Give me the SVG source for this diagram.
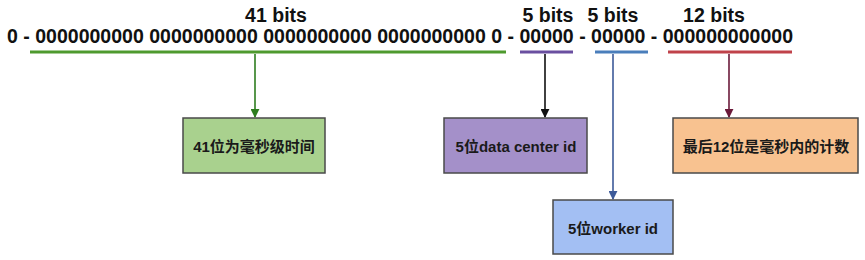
<svg xmlns="http://www.w3.org/2000/svg" width="865" height="260" viewBox="0 0 865 260">
<style>
.h{font-family:"Liberation Sans",Arial,sans-serif;font-weight:bold;font-size:19.5px;fill:#111}
.t{font-family:"Liberation Sans","Noto Sans CJK SC",sans-serif;font-weight:bold;font-size:15px;fill:#1a1a1a;text-anchor:middle;dominant-baseline:central}
.box{stroke:#4a4a4a;stroke-width:1.5}
.u{stroke-width:3;fill:none}
.c{stroke-width:1.6;fill:none}
</style>
<defs>
<marker id="ag" viewBox="0 0 10 10" refX="9" refY="5" markerWidth="9" markerHeight="9" markerUnits="userSpaceOnUse" orient="auto"><path d="M0,0L10,5L0,10z" fill="#2e7d1f"/></marker>
<marker id="ak" viewBox="0 0 10 10" refX="9" refY="5" markerWidth="9" markerHeight="9" markerUnits="userSpaceOnUse" orient="auto"><path d="M0,0L10,5L0,10z" fill="#111"/></marker>
<marker id="ab" viewBox="0 0 10 10" refX="9" refY="5" markerWidth="9" markerHeight="9" markerUnits="userSpaceOnUse" orient="auto"><path d="M0,0L10,5L0,10z" fill="#3d5a99"/></marker>
<marker id="ar" viewBox="0 0 10 10" refX="9" refY="5" markerWidth="9" markerHeight="9" markerUnits="userSpaceOnUse" orient="auto"><path d="M0,0L10,5L0,10z" fill="#6b1a3a"/></marker>
</defs>
<g id="labels">
<text class="h" x="276" y="22" text-anchor="middle">41 bits</text>
<text class="h" x="548" y="22" text-anchor="middle">5 bits</text>
<text class="h" x="613" y="22" text-anchor="middle">5 bits</text>
<text class="h" x="714" y="22" text-anchor="middle">12 bits</text>
<text class="h" x="7" y="43" textLength="786" lengthAdjust="spacingAndGlyphs">0 - 0000000000 0000000000 0000000000 0000000000 0 - 00000 - 00000 - 000000000000</text>
</g>
<g id="connectors">
<line class="u" x1="30" y1="52" x2="506" y2="52" stroke="#4e9a2e"/>
<line class="u" x1="520" y1="52" x2="573" y2="52" stroke="#6a4fa0"/>
<line class="u" x1="595" y1="52" x2="648" y2="52" stroke="#4a7ebb"/>
<line class="u" x1="668" y1="52" x2="792" y2="52" stroke="#c0424a"/>
<line class="c" x1="255" y1="54" x2="255" y2="117" stroke="#2e7d1f" marker-end="url(#ag)"/>
<line class="c" x1="545" y1="54" x2="545" y2="117" stroke="#111" marker-end="url(#ak)"/>
<line class="c" x1="613" y1="54" x2="613" y2="199" stroke="#3d5a99" marker-end="url(#ab)"/>
<line class="c" x1="729" y1="54" x2="729" y2="117" stroke="#6b1a3a" marker-end="url(#ar)"/>
</g>
<g id="n41">
<rect class="box" x="183" y="118" width="142" height="55" fill="#a9d18e"/>
<text class="t" x="254" y="146">41位为毫秒级时间</text>
</g>
<g id="ndc">
<rect class="box" x="444" y="118" width="143" height="55" fill="#a490c9"/>
<text class="t" x="516" y="146">5位data center id</text>
</g>
<g id="nseq">
<rect class="box" x="673" y="118" width="185" height="55" fill="#f8c290"/>
<text class="t" x="766" y="146">最后12位是毫秒内的计数</text>
</g>
<g id="nworker">
<rect class="box" x="553" y="200" width="120" height="54" fill="#a3bff3"/>
<text class="t" x="613" y="228">5位worker id</text>
</g>
</svg>
